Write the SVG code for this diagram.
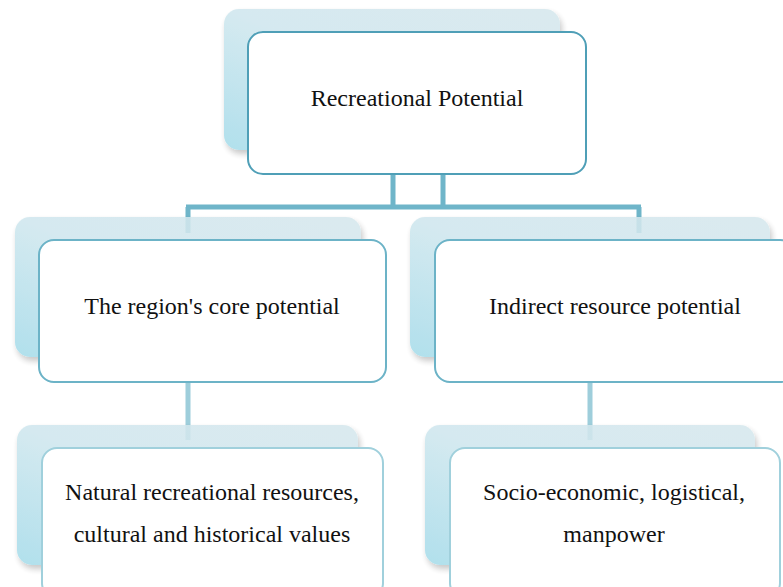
<svg xmlns="http://www.w3.org/2000/svg" width="783" height="587" viewBox="0 0 783 587">
<style>
.back{fill:url(#bg);filter:url(#sh);opacity:0.88}
.front{fill:#ffffff;stroke-width:2}
.t{font-family:"Liberation Serif","Times New Roman",serif;font-size:24px;fill:#111;text-anchor:middle}
.c1{stroke:#6fb5c9;stroke-width:5;fill:none}
.c2{stroke:#9ecedb;stroke-width:5;fill:none}
</style>
<defs>
<linearGradient id="bg" x1="1" y1="0" x2="0" y2="1">
<stop offset="0" stop-color="#d6e8ed"/>
<stop offset="0.5" stop-color="#d0e7ee"/>
<stop offset="1" stop-color="#a6dcea"/>
</linearGradient>
<filter id="sh" x="-10%" y="-10%" width="125%" height="130%">
<feGaussianBlur in="SourceAlpha" stdDeviation="3"/>
<feOffset dx="2" dy="4" result="b"/>
<feComponentTransfer><feFuncA type="linear" slope="0.25"/></feComponentTransfer>
<feMerge><feMergeNode/><feMergeNode in="SourceGraphic"/></feMerge>
</filter>
</defs>
<rect width="783" height="587" fill="#ffffff"/>
<g id="connectors">
<path class="c1" d="M393 174V207M443 174V207M186 207H641M188 207V233M639 207V233"/>
<path class="c2" d="M188 382V440M590 382V440"/>
</g>
<g id="n1">
<rect class="back" x="224" y="9" width="336" height="141" rx="15"/>
<rect class="front" x="248" y="32" width="338" height="142" rx="15" stroke="#4f9fb7"/>
<text class="t" x="417" y="106">Recreational Potential</text>
</g>
<g id="n2">
<rect class="back" x="15" y="217" width="346" height="140" rx="15"/>
<rect class="front" x="39" y="240" width="347" height="142" rx="15" stroke="#6cb3c7"/>
<text class="t" x="212" y="314">The region's core potential</text>
</g>
<g id="n3">
<rect class="back" x="410" y="217" width="360" height="140" rx="15"/>
<rect class="front" x="435" y="240" width="360" height="142" rx="15" stroke="#6cb3c7"/>
<text class="t" x="615" y="314">Indirect resource potential</text>
</g>
<g id="n4">
<rect class="back" x="17" y="425" width="341" height="140" rx="15"/>
<rect class="front" x="42" y="448" width="341" height="150" rx="15" stroke="#a0d0dc"/>
<text class="t" x="212" y="500">Natural recreational resources,</text>
<text class="t" x="212" y="542">cultural and historical values</text>
</g>
<g id="n5">
<rect class="back" x="425" y="425" width="330" height="140" rx="15"/>
<rect class="front" x="450" y="448" width="330" height="150" rx="15" stroke="#a0d0dc"/>
<text class="t" x="614" y="500">Socio-economic, logistical,</text>
<text class="t" x="614" y="542">manpower</text>
</g>
</svg>
